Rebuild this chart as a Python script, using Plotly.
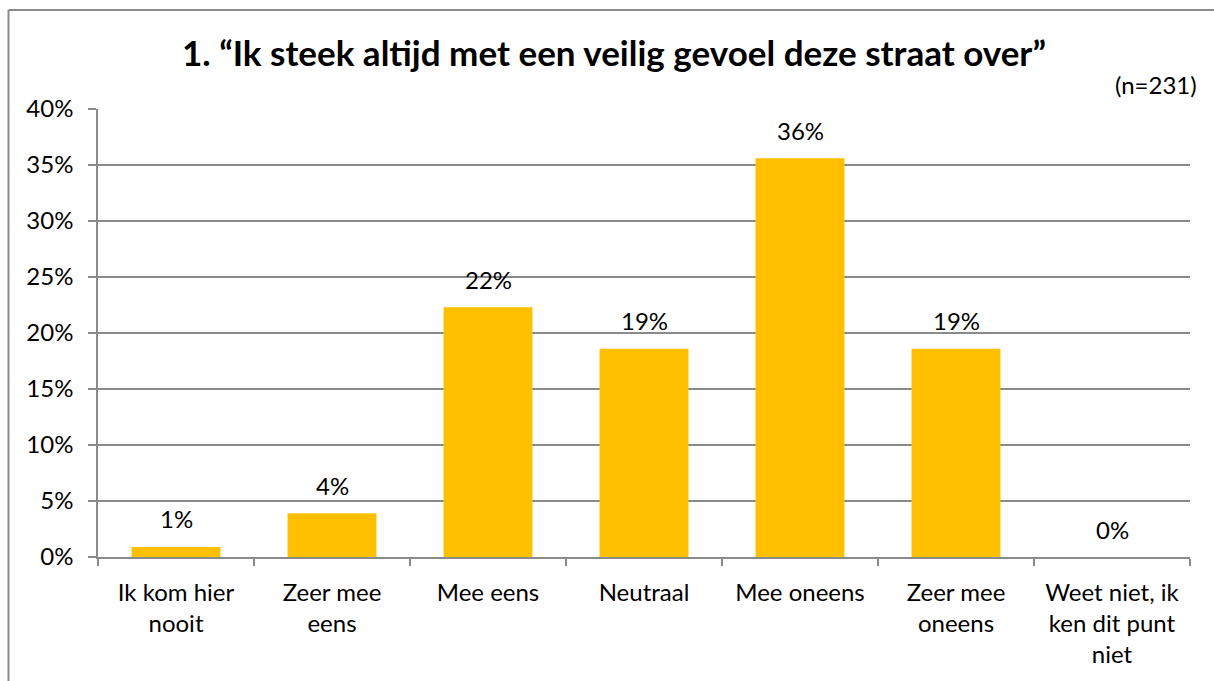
import plotly.graph_objects as go

categories = ["Ik kom hier<br>nooit", "Zeer mee<br>eens", "Mee eens", "Neutraal",
              "Mee oneens", "Zeer mee<br>oneens", "Weet niet, ik<br>ken dit punt<br>niet"]
values = [0.9, 3.9, 22.3, 18.6, 35.6, 18.6, 0.0]
labels = ["1%", "4%", "22%", "19%", "36%", "19%", "0%"]
title_text = "1. “Ik steek altijd met een veilig gevoel deze straat over”"
n_text = "(n=231)"
y_ticks = [0, 5, 10, 15, 20, 25, 30, 35, 40]
y_tick_text = ["0%", "5%", "10%", "15%", "20%", "25%", "30%", "35%", "40%"]

W, H = 1214, 681
L, R, T, B = 98, 24, 109, 124
pw, ph = W - L - R, H - T - B

def px_x(x):
    return (x - L) / pw

def px_y(y):
    return (H - B - y) / ph

FONT = "Lato"
GRAY = "#8a8a8a"

fig = go.Figure()
fig.add_trace(go.Bar(x=categories, y=values, marker=dict(color="#FFC000", line=dict(width=0)),
                     hoverinfo="skip"))

for c, v, t in zip(categories, values, labels):
    fig.add_annotation(x=c, y=v, text=t, showarrow=False, yanchor="middle", yshift=28,
                       font=dict(family=FONT, size=24, color="black"))

fig.add_annotation(xref="paper", yref="paper", x=px_x(1199), y=px_y(84), text=n_text,
                   showarrow=False, xanchor="right", yanchor="middle",
                   font=dict(family=FONT, size=24, color="black"))

# outer chart border (left and top edges visible)
fig.add_shape(type="line", xref="paper", yref="paper", x0=px_x(8.5), x1=px_x(8.5),
              y0=px_y(10), y1=px_y(681), line=dict(color=GRAY, width=2))
fig.add_shape(type="line", xref="paper", yref="paper", x0=px_x(8.5), x1=px_x(1214),
              y0=px_y(10), y1=px_y(10), line=dict(color=GRAY, width=2))

fig.update_layout(
    width=W, height=H, margin=dict(l=L, r=R, t=T, b=B, autoexpand=False),
    paper_bgcolor="white", plot_bgcolor="white",
    bargap=0.43, showlegend=False,
    title=dict(text=title_text, x=614 / W, xanchor="center", y=1 - 54 / H, yanchor="middle",
               font=dict(family=FONT, size=35, color="black", weight="bold")),
    font=dict(family=FONT, size=24, color="black"),
)
fig.update_xaxes(showline=True, linecolor=GRAY, linewidth=1.5, ticks="outside", ticklen=7,
                 tickcolor=GRAY, tickwidth=1.5, tickson="boundaries", showgrid=False,
                 ticklabelstandoff=13, tickfont=dict(family=FONT, size=24, color="black"))
fig.update_yaxes(range=[0, 40], tickmode="array", tickvals=y_ticks, ticktext=y_tick_text,
                 showline=True, linecolor=GRAY,
                 linewidth=1.5, ticks="outside", ticklen=8, tickcolor=GRAY, tickwidth=1.5,
                 showgrid=True, gridcolor=GRAY, gridwidth=1.5, zeroline=False,
                 ticklabelstandoff=10, tickfont=dict(family=FONT, size=24, color="black"))

css = ("document.documentElement.style.margin='0';document.documentElement.style.overflow='hidden';"
       "document.body.style.margin='0';document.body.style.overflow='hidden';"
       "document.body.style.background='white';")
fig.write_html("out.html", config={"displayModeBar": False}, post_script=css)
